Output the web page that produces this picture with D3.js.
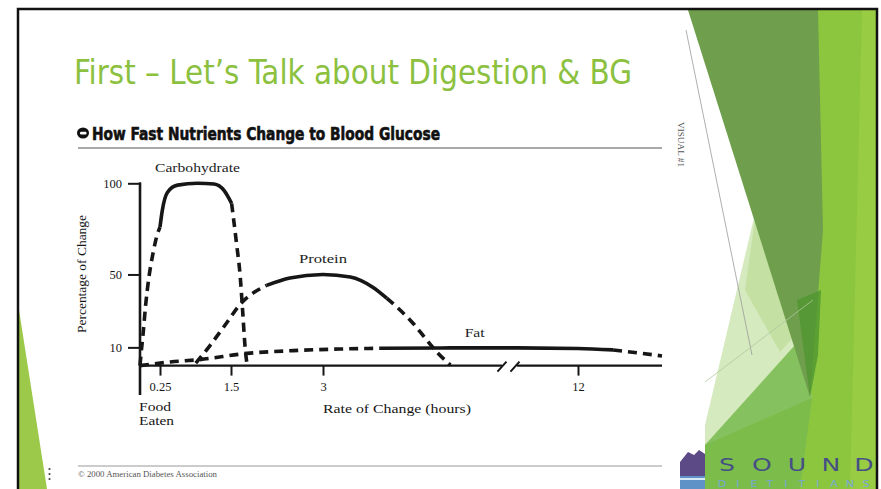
<!DOCTYPE html>
<html>
<head>
<meta charset="utf-8">
<script src="https://cdn.jsdelivr.net/npm/d3@7"></script>
<style>
  body { margin: 0; background: #fff; }
  svg { display: block; }
</style>
</head>
<body>
<script>
// values
const xTickValues = [0.25, 1.5, 3, 12];
const xTickLabels = ["0.25", "1.5", "3", "12"];
const yTickValues = [10, 50, 100];

const carbTime = [0, 0.01, 0.04, 0.07, 0.11, 0.16, 0.21, 0.25, 0.29, 0.38, 0.56, 0.91, 1.2, 1.38, 1.51, 1.59, 1.65, 1.69, 1.73, 1.76];
const carbPct  = [0, 5, 18, 33, 48, 61, 71, 76, 85, 95, 99, 100, 99.6, 96, 89, 67, 49, 30, 10, 1];
const carbSolid = [7, 14];

const protTime = [0.88, 1.13, 1.39, 1.66, 2.08, 2.46, 3.0, 3.45, 3.82, 4.05, 4.27, 4.48, 4.71, 4.89, 5.1];
const protPct  = [1.4, 11, 22, 34, 44, 48, 50, 48.6, 43, 37, 30.5, 23.4, 14, 7, 0.3];
const protSolid = [4, 9];

const fatTime = [0, 0.43, 0.95, 1.76, 2.51, 3.28, 3.94, 5.1, 5.5, 6, 9, 12, 13.67, 14.9, 16];
const fatPct  = [0, 2, 3.3, 6.7, 8.2, 9.1, 9.5, 9.7, 9.75, 9.7, 9.7, 9.4, 8.6, 6.9, 5.3];
const fatSolid = [6, 12];

const seriesNames = ["Carbohydrate", "Protein", "Fat"];

const W = 881, H = 489;
const svg = d3.select("body").append("svg")
    .attr("width", W)
    .attr("height", H);

// ---- slide decoration (right side facets) ----
const deco = svg.append("g");
deco.append("polygon").attr("points", "800,10 877,10 877,489 705,489 705,440 760,330").attr("fill", "#8cc63f");
deco.append("polygon").attr("points", "862,10 877,10 877,489 850,489").attr("fill", "#9bcd45").attr("opacity", 0.8);
deco.append("polygon").attr("points", "757,205 812,398 705,445 705,425").attr("fill", "#d6eabf");
deco.append("polygon").attr("points", "757,205 800,330 780,352 745,290").attr("fill", "#bcdc95").attr("opacity", 0.7);
deco.append("polygon").attr("points", "705,445 795,345 812,398 800,489 705,489").attr("fill", "#78ba4d").attr("opacity", 0.85);
deco.append("polygon").attr("points", "688,10 818,10 823,230 810,397").attr("fill", "#6f9f4d");
deco.append("polygon").attr("points", "797,300 821,290 818,355 810,397").attr("fill", "#4f9630").attr("opacity", 0.8);
deco.append("line").attr("x1", 686).attr("y1", 30).attr("x2", 752).attr("y2", 355).attr("stroke", "#9a9a9a").attr("stroke-width", 0.8);
deco.append("line").attr("x1", 705).attr("y1", 382).attr("x2", 813).attr("y2", 300).attr("stroke", "#b0c8a0").attr("stroke-width", 0.8);

// bottom-left green sliver
svg.append("polygon").attr("points", "19,310 19,489 47,489").attr("fill", "#9cc94a");

// slide frame
svg.append("path")
    .attr("d", "M18,489 L18,9 L877,9 L877,489")
    .attr("fill", "none")
    .attr("stroke", "#111")
    .attr("stroke-width", 2.5);

// title
svg.append("text")
    .attr("x", 74).attr("y", 84)
    .attr("textLength", 558).attr("lengthAdjust", "spacingAndGlyphs")
    .style("font-family", "'Liberation Sans Narrow','DejaVu Sans Condensed',sans-serif")
    .style("font-size", "33px")
    .style("fill", "#8cc13f")
    .text("First \u2013 Let\u2019s Talk about Digestion & BG");

// scanned figure heading
svg.append("ellipse").attr("cx", 83).attr("cy", 133).attr("rx", 6).attr("ry", 5.5).attr("fill", "#111");
svg.append("rect").attr("x", 80).attr("y", 131.8).attr("width", 6.5).attr("height", 2.6).attr("rx", 1.2).attr("fill", "#fff");
svg.append("text")
    .attr("x", 92).attr("y", 139.5)
    .attr("textLength", 348).attr("lengthAdjust", "spacingAndGlyphs")
    .style("font-family", "'Liberation Sans Narrow','DejaVu Sans Condensed',sans-serif")
    .style("font-weight", "bold")
    .style("font-size", "18px")
    .style("fill", "#111")
    .style("stroke", "#111")
    .style("stroke-width", "0.6px")
    .text("How Fast Nutrients Change to Blood Glucose");
svg.append("line").attr("x1", 78).attr("x2", 662).attr("y1", 148).attr("y2", 148)
    .attr("stroke", "#8d8d8d").attr("stroke-width", 1.4);

// ---- chart ----
const x = d3.scaleLinear()
    .domain([0, 0.25, 1.5, 3, 6, 9, 12, 16])
    .range([140, 160, 231, 323, 505, 517, 578, 662]);
const y = d3.scaleLinear()
    .domain([0, 100])
    .range([365.6, 183.3]);
const breakDomain = [5.95, 9];

const serif = "'Liberation Serif','DejaVu Serif',serif";
const ink = "#161616";

const chart = svg.append("g");

// x axis (with break)
const xAxis = chart.append("g")
    .attr("transform", "translate(0," + y(0) + ")")
    .call(d3.axisBottom(x).tickValues(xTickValues).tickFormat((d, i) => xTickLabels[i]).tickSize(10).tickPadding(7));
xAxis.select(".domain").remove();
xAxis.selectAll("line").attr("stroke", ink).attr("stroke-width", 2);
xAxis.selectAll("text").style("font-family", serif).style("font-size", "12.5px").style("fill", ink);

chart.append("line")
    .attr("x1", x(0)).attr("x2", x(breakDomain[0]))
    .attr("y1", y(0)).attr("y2", y(0))
    .attr("stroke", ink).attr("stroke-width", 2.2);
chart.append("line")
    .attr("x1", x(breakDomain[1])).attr("x2", x(16))
    .attr("y1", y(0)).attr("y2", y(0))
    .attr("stroke", ink).attr("stroke-width", 2.2);
[x(breakDomain[0]), x(breakDomain[1]) - 2].forEach(bx => {
    chart.append("line")
        .attr("x1", bx - 4.5).attr("y1", y(0) + 6)
        .attr("x2", bx + 4.5).attr("y2", y(0) - 4)
        .attr("stroke", ink).attr("stroke-width", 2);
});

// y axis
const yAxis = chart.append("g")
    .attr("transform", "translate(" + x(0) + ",0)")
    .call(d3.axisLeft(y).tickValues(yTickValues).tickSize(12).tickPadding(6));
yAxis.select(".domain").remove();
yAxis.selectAll("line").attr("stroke", ink).attr("stroke-width", 2);
yAxis.selectAll("text").style("font-family", serif).style("font-size", "12.5px").style("fill", ink);

chart.append("line")
    .attr("x1", x(0)).attr("x2", x(0))
    .attr("y1", y(100) - 1).attr("y2", 395)
    .attr("stroke", ink).attr("stroke-width", 2.6);

// axis titles
chart.append("text")
    .attr("transform", "translate(86," + 274 + ") rotate(-90)")
    .attr("text-anchor", "middle")
    .attr("textLength", 118).attr("lengthAdjust", "spacingAndGlyphs")
    .style("font-family", serif).style("font-size", "13px").style("fill", ink)
    .text("Percentage of Change");
chart.append("text")
    .attr("x", 323).attr("y", 413)
    .attr("textLength", 148).attr("lengthAdjust", "spacingAndGlyphs")
    .style("font-family", serif).style("font-size", "13px").style("fill", ink)
    .text("Rate of Change (hours)");
chart.append("text")
    .attr("x", 139).attr("y", 411)
    .attr("textLength", 32).attr("lengthAdjust", "spacingAndGlyphs")
    .style("font-family", serif).style("font-size", "12px").style("fill", ink)
    .text("Food");
chart.append("text")
    .attr("x", 139).attr("y", 424.5)
    .attr("textLength", 35).attr("lengthAdjust", "spacingAndGlyphs")
    .style("font-family", serif).style("font-size", "12px").style("fill", ink)
    .text("Eaten");

// curves
const line = d3.line()
    .x(d => x(d[0]))
    .y(d => y(d[1]))
    .curve(d3.curveMonotoneX);

const series = [
    { name: seriesNames[0], t: carbTime, v: carbPct, solid: carbSolid, lw: 85 },
    { name: seriesNames[1], t: protTime, v: protPct, solid: protSolid, lw: 48 },
    { name: seriesNames[2], t: fatTime, v: fatPct, solid: fatSolid, lw: 20 }
];

series.forEach(s => {
    const pts = s.t.map((t, i) => [t, s.v[i]]);
    const parts = [
        { p: pts.slice(0, s.solid[0] + 1), dash: true },
        { p: pts.slice(s.solid[0], s.solid[1] + 1), dash: false },
        { p: pts.slice(s.solid[1]), dash: true }
    ];
    parts.forEach(part => {
        if (part.p.length < 2) return;
        chart.append("path")
            .attr("d", line(part.p))
            .attr("fill", "none")
            .attr("stroke", ink)
            .attr("stroke-width", 3.6)
            .attr("stroke-dasharray", part.dash ? "9,6" : null);
    });
    // label above the peak
    const peak = d3.maxIndex(s.v);
    chart.append("text")
        .attr("x", x(s.t[peak]))
        .attr("y", y(s.v[peak]) - 11)
        .attr("text-anchor", "middle")
        .attr("textLength", s.lw).attr("lengthAdjust", "spacingAndGlyphs")
        .style("font-family", serif).style("font-size", "12.5px").style("fill", "#222")
        .text(s.name);
});

// side notes of the scan
svg.append("text")
    .attr("transform", "translate(678,122) rotate(90)")
    .attr("textLength", 45).attr("lengthAdjust", "spacingAndGlyphs")
    .style("font-family", serif).style("font-size", "8.5px").style("fill", "#555")
    .text("VISUAL #1");
svg.append("clipPath").attr("id", "sideclip")
    .append("rect").attr("x", 670).attr("y", 380).attr("width", 20).attr("height", 72);
svg.append("text")
    .attr("clip-path", "url(#sideclip)")
    .attr("transform", "translate(678,393) rotate(90)")
    .style("font-family", serif).style("font-size", "9px").style("font-weight", "bold").style("fill", "#222")
    .text("Carbohydrate Counting");

// footer of the scan
svg.append("line").attr("x1", 78).attr("x2", 662).attr("y1", 466).attr("y2", 466)
    .attr("stroke", "#9a9a9a").attr("stroke-width", 1.2);
svg.append("text")
    .attr("x", 78).attr("y", 477)
    .attr("textLength", 139).attr("lengthAdjust", "spacingAndGlyphs")
    .style("font-family", serif).style("font-size", "7.5px").style("fill", "#555")
    .text("\u00a9 2000 American Diabetes Association");
[469, 474, 479].forEach(dy => {
    svg.append("circle").attr("cx", 49.5).attr("cy", dy).attr("r", 1.1).attr("fill", "#444");
});

// logo
const logo = svg.append("g");
logo.append("rect").attr("x", 680).attr("y", 446).attr("width", 25).attr("height", 43).attr("fill", "#fff");
logo.append("polygon").attr("points", "680,462 688,452 694,455 699,450 705,454 705,478 680,478").attr("fill", "#5c4a86");
logo.append("rect").attr("x", 680).attr("y", 476).attr("width", 25).attr("height", 13).attr("fill", "#5f93c8");
logo.append("rect").attr("x", 680).attr("y", 478).attr("width", 25).attr("height", 2).attr("fill", "#d8e8f5");

const soundX = [727, 762, 797, 831, 864];
"SOUND".split("").forEach((ch, i) => {
    logo.append("text")
        .attr("transform", "translate(" + soundX[i] + ",471) scale(1.4,1)")
        .attr("text-anchor", "middle")
        .style("font-family", "'DejaVu Sans',sans-serif")
        .style("font-size", "18px")
        .style("fill", "#464f85")
        .text(ch);
});
"DIETITIANS".split("").forEach((ch, i) => {
    logo.append("text")
        .attr("transform", "translate(" + (722 + i * 16) + ",486.5) scale(1.4,1)")
        .attr("text-anchor", "middle")
        .style("font-family", "'DejaVu Sans',sans-serif")
        .style("font-size", "8px")
        .style("fill", "#78a9d2")
        .text(ch);
});
</script>
</body>
</html>
